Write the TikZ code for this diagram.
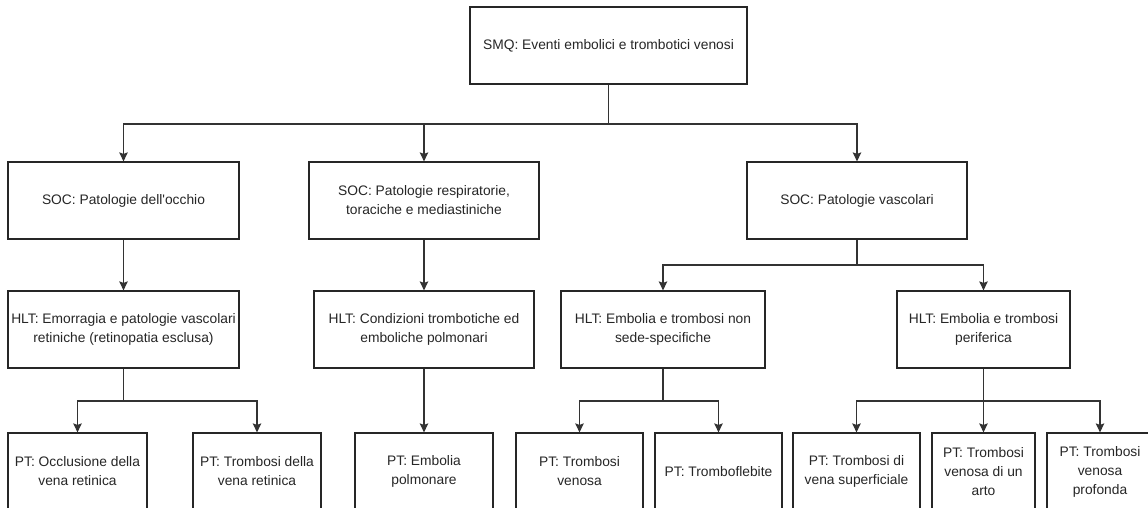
\documentclass[tikz,border=0pt]{standalone}
\usepackage{fontspec}
\setmainfont{Liberation Sans}[Ligatures=TeXOff]
\usetikzlibrary{arrows.meta}
\begin{document}
\begin{tikzpicture}[x=1pt,y=-1pt,
  box/.style={draw=black!85,line width=1.2pt,rectangle,align=center,text=black!85,
    inner sep=2pt,minimum height=77pt,font=\fontsize{13.8}{19}\selectfont},
  line/.style={draw=black!80,line width=1.2pt},
  arr/.style={line,-{Stealth[length=9pt,width=8.5pt,inset=1.5pt]}}]
\useasboundingbox (0,0) rectangle (1148,508);
\clip (0,0) rectangle (1148,508);
\fill[white] (0,0) rectangle (1148,508);
% level 0
\node[box,minimum width=277pt] (smq) at (608.5,45.5) {SMQ: Eventi embolici e trombotici venosi};
% level 1
\node[box,minimum width=231pt] (soc1) at (123.5,200.5) {SOC: Patologie dell'occhio};
\node[box,minimum width=230pt] (soc2) at (424,200.5) {SOC: Patologie respiratorie,\\toraciche e mediastiniche};
\node[box,minimum width=220pt] (soc3) at (857,200.5) {SOC: Patologie vascolari};
% level 2
\node[box,minimum width=231pt] (hlt1) at (123.5,329.5) {HLT: Emorragia e patologie vascolari\\retiniche (retinopatia esclusa)};
\node[box,minimum width=220pt] (hlt2) at (424,329.5) {HLT: Condizioni trombotiche ed\\emboliche polmonari};
\node[box,minimum width=204pt] (hlt3) at (663,329.5) {HLT: Embolia e trombosi non\\sede-specifiche};
\node[box,minimum width=173pt] (hlt4) at (983.5,329.5) {HLT: Embolia e trombosi\\periferica};
% level 3
\node[box,minimum width=139pt] (pt1) at (77.5,471.5) {PT: Occlusione della\\vena retinica};
\node[box,minimum width=128pt] (pt2) at (257,471.5) {PT: Trombosi della\\vena retinica};
\node[box,minimum width=138pt] (pt3) at (424,471.5) {PT: Embolia\\polmonare};
\node[box,minimum width=127pt] (pt4) at (579.5,471.5) {PT: Trombosi\\venosa};
\node[box,minimum width=127pt] (pt5) at (718.5,471.5) {PT: Tromboflebite};
\node[box,minimum width=127pt] (pt6) at (856.5,471.5) {PT: Trombosi di\\vena superficiale};
\node[box,minimum width=103pt] (pt7) at (983.5,471.5) {PT: Trombosi\\venosa di un\\arto};
\node[box,minimum width=106pt] (pt8) at (1100,471.5) {PT: Trombosi\\venosa\\profonda};
% junction levels
\coordinate (ja) at (0,124);
\coordinate (jb) at (0,265);
\coordinate (jc) at (0,401);
% connectors level 0 -> 1
\draw[line] (smq.south) -- (smq.south |- ja);
\draw[arr] (smq.south |- ja) -| (soc1.north);
\draw[arr] (smq.south |- ja) -| (soc2.north);
\draw[arr] (smq.south |- ja) -| (soc3.north);
% level 1 -> 2
\draw[arr] (soc1.south) -- (hlt1.north);
\draw[arr] (soc2.south) -- (hlt2.north);
\draw[line] (soc3.south) -- (soc3.south |- jb);
\draw[arr] (soc3.south |- jb) -| (hlt3.north);
\draw[arr] (soc3.south |- jb) -| (hlt4.north);
% level 2 -> 3
\draw[line] (hlt1.south) -- (hlt1.south |- jc);
\draw[arr] (hlt1.south |- jc) -| (pt1.north);
\draw[arr] (hlt1.south |- jc) -| (pt2.north);
\draw[arr] (hlt2.south) -- (pt3.north);
\draw[line] (hlt3.south) -- (hlt3.south |- jc);
\draw[arr] (hlt3.south |- jc) -| (pt4.north);
\draw[arr] (hlt3.south |- jc) -| (pt5.north);
\draw[line] (hlt4.south) -- (hlt4.south |- jc);
\draw[arr] (hlt4.south |- jc) -| (pt6.north);
\draw[arr] (hlt4.south) -- (pt7.north);
\draw[arr] (hlt4.south |- jc) -| (pt8.north);
\end{tikzpicture}
\end{document}
